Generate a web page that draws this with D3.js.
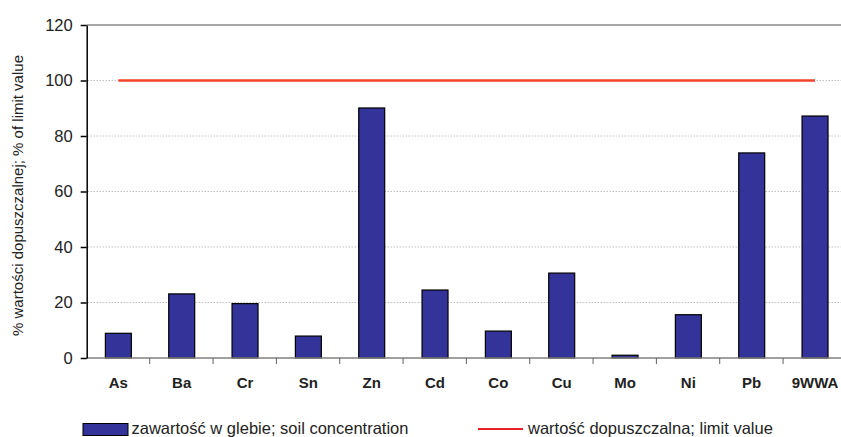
<!DOCTYPE html>
<html>
<head>
<meta charset="utf-8">
<script src="https://cdn.jsdelivr.net/npm/d3@7"></script>
<style>
  body { margin: 0; background: #fff; }
  svg { display: block; font-family: "Liberation Sans", Arial, sans-serif; }
</style>
</head>
<body>
<div id="chart"></div>
<script>
var categories = ["As", "Ba", "Cr", "Sn", "Zn", "Cd", "Co", "Cu", "Mo", "Ni", "Pb", "9WWA"];
var soilValues = [8.9, 23.1, 19.6, 7.9, 90.1, 24.5, 9.7, 30.6, 1.0, 15.6, 73.9, 87.2];
var limitValues = [100, 100, 100, 100, 100, 100, 100, 100, 100, 100, 100, 100];
var yTicks = [0, 20, 40, 60, 80, 100, 120];

var w = 841;
var h = 437;
var plotLeft = 86.7, plotRight = 846.7, plotTop = 25, plotBottom = 358;

var svg = d3.select("#chart")
            .append("svg")
            .attr("width", w)
            .attr("height", h);

var x = d3.scaleBand()
          .domain(categories)
          .range([plotLeft, plotRight])
          .paddingInner(0.59)
          .paddingOuter(0.295);

var xc = d3.scalePoint()
           .domain(categories)
           .range([plotLeft, plotRight])
           .padding(0.5);

var y = d3.scaleLinear()
          .domain([0, 120])
          .range([plotBottom, plotTop]);

// dotted gridlines
svg.append("g")
   .selectAll("line")
   .data(yTicks.filter(function (d) { return d > 0 && d < 120; }))
   .enter()
   .append("line")
   .attr("x1", plotLeft + 1)
   .attr("x2", plotRight)
   .attr("y1", function (d) { return y(d); })
   .attr("y2", function (d) { return y(d); })
   .attr("stroke", "#a0a0a0")
   .attr("stroke-width", 1)
   .attr("stroke-dasharray", "1,2");

// top border
svg.append("line")
   .attr("x1", plotLeft)
   .attr("x2", plotRight)
   .attr("y1", y(120))
   .attr("y2", y(120))
   .attr("stroke", "#8a8a8a")
   .attr("stroke-width", 1.5);

// bars
svg.append("g")
   .selectAll("rect")
   .data(soilValues)
   .enter()
   .append("rect")
   .attr("x", function (d, i) { return x(categories[i]); })
   .attr("y", function (d) { return y(d); })
   .attr("width", x.bandwidth())
   .attr("height", function (d) { return plotBottom - y(d); })
   .attr("fill", "#333399")
   .attr("stroke", "#000")
   .attr("stroke-width", 1.2);

// limit line
var line = d3.line()
             .x(function (d, i) { return xc(categories[i]); })
             .y(function (d) { return y(d); });

svg.append("path")
   .datum(limitValues)
   .attr("d", line)
   .attr("fill", "none")
   .attr("stroke", "#f4432b")
   .attr("stroke-width", 2.5);

// x axis
var xAxis = svg.append("g")
               .attr("transform", "translate(0," + plotBottom + ")");
xAxis.append("line")
     .attr("x1", plotLeft)
     .attr("x2", plotRight)
     .attr("stroke", "#808080")
     .attr("stroke-width", 1.5);
xAxis.selectAll("line.tick")
     .data(categories.slice(1))
     .enter()
     .append("line")
     .attr("class", "tick")
     .attr("x1", function (d) { return x(d) - x.step() * x.paddingInner() / 2 - 0.3; })
     .attr("x2", function (d) { return x(d) - x.step() * x.paddingInner() / 2 - 0.3; })
     .attr("y1", 0)
     .attr("y2", 6)
     .attr("stroke", "#606060")
     .attr("stroke-width", 1);
xAxis.selectAll("text")
     .data(categories)
     .enter()
     .append("text")
     .attr("x", function (d) { return xc(d); })
     .attr("y", 30)
     .attr("text-anchor", "middle")
     .attr("font-size", "15px")
     .attr("font-weight", "bold")
     .attr("fill", "#222")
     .text(function (d) { return d; });

// y axis
var yAxis = svg.append("g")
               .attr("transform", "translate(" + plotLeft + ",0)")
               .call(d3.axisLeft(y).tickValues(yTicks).tickSize(6).tickSizeOuter(0));
yAxis.select(".domain").attr("stroke", "#000").attr("stroke-width", 1.5);
yAxis.selectAll(".tick line").attr("stroke", "#000").attr("stroke-width", 1.5);
yAxis.selectAll(".tick text")
     .attr("font-size", "16.5px")
     .attr("font-family", "Liberation Sans, Arial, sans-serif")
     .attr("fill", "#222")
     .attr("x", -14);

svg.append("text")
   .attr("transform", "translate(23," + ((plotTop + plotBottom) / 2 + 4) + ") rotate(-90)")
   .attr("text-anchor", "middle")
   .attr("font-size", "15px")
   .attr("fill", "#222")
   .text("% wartości dopuszczalnej; % of limit value");

// legend
svg.append("rect")
   .attr("x", 83).attr("y", 423.5)
   .attr("width", 45).attr("height", 12)
   .attr("fill", "#333399").attr("stroke", "#000").attr("stroke-width", 1);
svg.append("text")
   .attr("x", 131.5).attr("y", 434)
   .attr("font-size", "16.5px").attr("fill", "#222")
   .text("zawartość w glebie; soil concentration");
svg.append("line")
   .attr("x1", 478).attr("x2", 523)
   .attr("y1", 429).attr("y2", 429)
   .attr("stroke", "#e8202a").attr("stroke-width", 2);
svg.append("text")
   .attr("x", 528).attr("y", 434)
   .attr("font-size", "16.5px").attr("fill", "#222")
   .text("wartość dopuszczalna; limit value");
</script>
</body>
</html>
